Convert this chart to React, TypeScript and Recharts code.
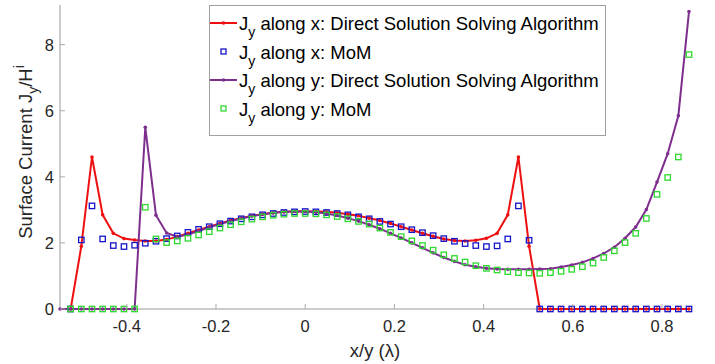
import React from 'react'
import { ComposedChart, Line, XAxis, YAxis, Legend, Label } from 'recharts'

// sample positions along x/y (in wavelengths)
const xPos = [
  -0.5497, -0.5258, -0.5019, -0.478, -0.4541, -0.4302, -0.4063, -0.3824, -0.3585, -0.3346,
  -0.3107, -0.2868, -0.2629, -0.239, -0.2151, -0.1912, -0.1673, -0.1434, -0.1195, -0.0956,
  -0.0717, -0.0478, -0.0239, 0, 0.0239, 0.0478, 0.0717, 0.0956, 0.1195, 0.1434,
  0.1673, 0.1912, 0.2151, 0.239, 0.2629, 0.2868, 0.3107, 0.3346, 0.3585, 0.3824,
  0.4063, 0.4302, 0.4541, 0.478, 0.5019, 0.5258, 0.5497, 0.5736, 0.5975, 0.6214,
  0.6453, 0.6692, 0.6931, 0.717, 0.7409, 0.7648, 0.7887, 0.8126, 0.8365, 0.8604,
]

const directX = [
  null, 0, 1.9, 4.6, 2.85, 2.29, 2.13, 2.09, 2.06, 2.06,
  2.1, 2.19, 2.29, 2.39, 2.49, 2.59, 2.68, 2.75, 2.82, 2.87,
  2.91, 2.94, 2.95, 2.96, 2.95, 2.94, 2.91, 2.87, 2.82, 2.75,
  2.68, 2.59, 2.49, 2.39, 2.29, 2.2, 2.12, 2.07, 2.06, 2.08,
  2.14, 2.29, 2.85, 4.6, 1.9, 0, 0, 0, 0, 0,
  0, 0, 0, 0, 0, 0, 0, 0, 0, 0,
]

const momX = [
  null, 0, 2.09, 3.12, 2.12, 1.92, 1.89, 1.93, 1.99, 2.05,
  2.13, 2.21, 2.32, 2.41, 2.49, 2.58, 2.66, 2.73, 2.79, 2.85,
  2.89, 2.92, 2.94, 2.95, 2.94, 2.92, 2.89, 2.85, 2.79, 2.73,
  2.65, 2.57, 2.49, 2.4, 2.31, 2.22, 2.13, 2.05, 1.98, 1.92,
  1.89, 1.91, 2.12, 3.12, 2.08, 0, 0, 0, 0, 0,
  0, 0, 0, 0, 0, 0, 0, 0, 0, 0,
]

const directY = [
  0, 0, 0, 0, 0, 0, 0, 0, 5.5, 2.84,
  2.3, 2.19, 2.25, 2.36, 2.47, 2.57, 2.66, 2.74, 2.81, 2.87,
  2.91, 2.94, 2.95, 2.95, 2.93, 2.89, 2.83, 2.75, 2.66, 2.55,
  2.43, 2.29, 2.15, 2.0, 1.85, 1.7, 1.56, 1.44, 1.34, 1.28,
  1.23, 1.21, 1.2, 1.2, 1.2, 1.21, 1.22, 1.27, 1.33, 1.41,
  1.53, 1.68, 1.87, 2.14, 2.48, 3.01, 3.84, 4.7, 5.85, 9.0,
]

const momY = [
  null, 0, 0, 0, 0, 0, 0, 0, 3.08, 2.12,
  2.01, 2.06, 2.14, 2.24, 2.34, 2.45, 2.55, 2.64, 2.72, 2.79,
  2.84, 2.87, 2.89, 2.89, 2.88, 2.85, 2.8, 2.73, 2.65, 2.57,
  2.45, 2.32, 2.19, 2.06, 1.92, 1.78, 1.64, 1.53, 1.42, 1.31,
  1.23, 1.18, 1.13, 1.1, 1.09, 1.08, 1.1, 1.14, 1.2, 1.28,
  1.39, 1.56, 1.76, 2.01, 2.29, 2.74, 3.47, 3.98, 4.6, 7.7,
]

const xTicks = [-0.4, -0.2, 0, 0.2, 0.4, 0.6, 0.8]
const yTicks = [0, 2, 4, 6, 8]

const legendItems = [
  { text: ' along x: Direct Solution Solving Algorithm', color: '#ee1010', kind: 'line' },
  { text: ' along x: MoM', color: '#1515c8', kind: 'square' },
  { text: ' along y: Direct Solution Solving Algorithm', color: '#7e2f8e', kind: 'line' },
  { text: ' along y: MoM', color: '#2ed82e', kind: 'square' },
]

const data = xPos.map((x, i) => ({
  x,
  directX: directX[i],
  momX: momX[i],
  directY: directY[i],
  momY: momY[i],
}))

const FONT = '"Liberation Sans", Arial, sans-serif'

const dotFor = (color: string) => (p: any) => {
  if (p.cy == null || p.value == null) return <g key={p.key ?? p.index} />
  return <circle key={p.key ?? p.index} cx={p.cx} cy={p.cy} r={1.8} fill={color} stroke="none" />
}

const squareFor = (color: string) => (p: any) => {
  if (p.cy == null || p.value == null) return <g key={p.key ?? p.index} />
  return (
    <rect
      key={p.key ?? p.index}
      x={p.cx - 2.7}
      y={p.cy - 2.7}
      width={5.4}
      height={5.4}
      fill="none"
      stroke={color}
      strokeWidth={1.3}
    />
  )
}

function XTick({ x, y, payload }: any) {
  return (
    <g>
      <line x1={x} y1={y} x2={x} y2={y - 5} stroke="#aaa" />
      <text x={x} y={y + 23} textAnchor="middle" fontSize={16.5} fontFamily={FONT} fill="#262626">
        {String(payload.value)}
      </text>
    </g>
  )
}

function YTick({ x, y, payload }: any) {
  return (
    <g>
      <line x1={x} y1={y} x2={x + 5} y2={y} stroke="#aaa" />
      <text x={x - 6} y={y + 6} textAnchor="end" fontSize={16.5} fontFamily={FONT} fill="#262626">
        {String(payload.value)}
      </text>
    </g>
  )
}

function YLabel() {
  return (
    <text
      x={31.5}
      y={152}
      transform="rotate(-90 31.5 152)"
      textAnchor="middle"
      fontSize={18.5}
      fontFamily={FONT}
      fill="#262626"
    >
      Surface Current J
      <tspan fontSize={14} dy={6}>y</tspan>
      <tspan dy={-6}>/H</tspan>
      <tspan fontSize={14} dy={-8}>i</tspan>
    </text>
  )
}

function XLabel() {
  return (
    <text x={375} y={357} textAnchor="middle" fontSize={18.5} fontFamily={FONT} fill="#262626">
      x/y (λ)
    </text>
  )
}

function LegendBox() {
  const rowY = [18, 46.5, 75, 103.5]
  return (
    <svg width={397} height={131} style={{ display: 'block' }}>
      <rect x={0.5} y={0.5} width={396} height={130} fill="#fff" stroke="#a0a0a0" />
      {legendItems.map((it, i) => (
        <g key={i}>
          {it.kind === 'line' ? (
            <g>
              <line x1={1} x2={28} y1={rowY[i]} y2={rowY[i]} stroke={it.color} strokeWidth={2} />
              <circle cx={14.5} cy={rowY[i]} r={1.8} fill={it.color} />
            </g>
          ) : (
            <rect x={12} y={rowY[i] - 2.5} width={5} height={5} fill="none" stroke={it.color} strokeWidth={1.3} />
          )}
          <text x={30} y={rowY[i] + 7} fontSize={18.5} fontFamily={FONT} fill="#000">
            J
            <tspan fontSize={14} dy={7}>y</tspan>
            <tspan dy={-7}>{it.text}</tspan>
          </text>
        </g>
      ))}
    </svg>
  )
}

export default function App() {
  return (
    <div style={{ position: 'absolute', left: 0, top: 0, width: 715, height: 364, background: '#fff' }}>
      <ComposedChart width={715} height={364} data={data} margin={{ top: 5, right: 26, left: 0, bottom: 0 }}>
        <XAxis
          type="number"
          dataKey="x"
          domain={[-0.5497, 0.8604]}
          ticks={xTicks}
          interval={0}
          height={55}
          tickSize={0}
          tickMargin={0}
          tickLine={false}
          axisLine={{ stroke: '#999' }}
          tick={<XTick />}
        >
          <Label content={<XLabel />} />
        </XAxis>
        <YAxis
          type="number"
          domain={[0, 9.2]}
          ticks={yTicks}
          interval={0}
          width={60}
          tickSize={0}
          tickMargin={0}
          tickLine={false}
          axisLine={{ stroke: '#999' }}
          tick={<YTick />}
        >
          <Label content={<YLabel />} />
        </YAxis>
        <Line
          dataKey="directX"
          stroke="#ee1010"
          strokeWidth={2}
          dot={dotFor('#ee1010')}
          activeDot={false}
          isAnimationActive={false}
          zIndex={600}
        />
        <Line
          dataKey="momX"
          stroke="none"
          dot={squareFor('#1515c8')}
          activeDot={false}
          isAnimationActive={false}
          zIndex={600}
        />
        <Line
          dataKey="directY"
          stroke="#7e2f8e"
          strokeWidth={2}
          dot={dotFor('#7e2f8e')}
          activeDot={false}
          isAnimationActive={false}
          zIndex={600}
        />
        <Line
          dataKey="momY"
          stroke="none"
          dot={squareFor('#2ed82e')}
          activeDot={false}
          isAnimationActive={false}
          zIndex={600}
        />
        <Legend
          layout="vertical"
          align="center"
          verticalAlign="middle"
          content={<LegendBox />}
          wrapperStyle={{ position: 'absolute', left: 209, top: 5, width: 397, height: 131 }}
        />
      </ComposedChart>
    </div>
  )
}
